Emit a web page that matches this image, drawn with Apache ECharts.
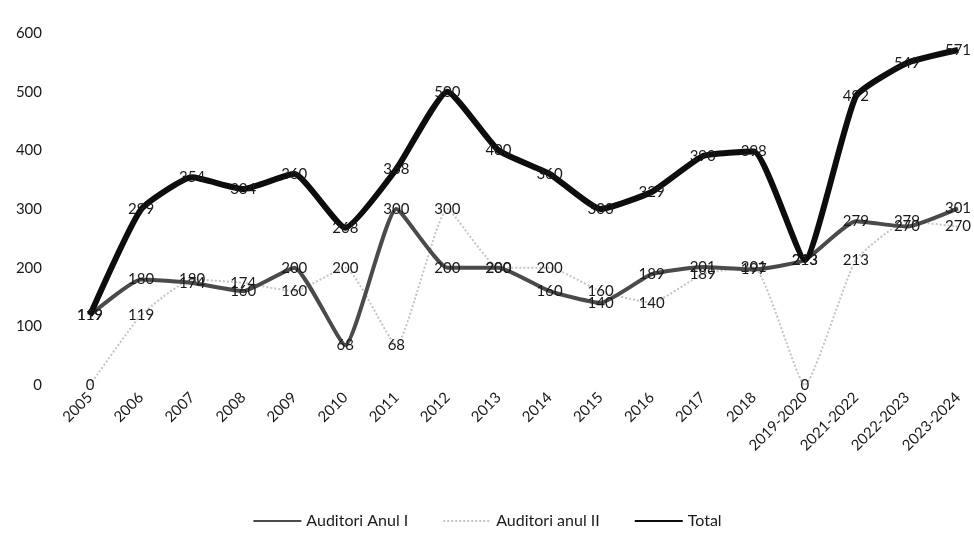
<!DOCTYPE html>
<html>
<head>
<meta charset="utf-8">
<script src="https://cdn.jsdelivr.net/npm/echarts@6/dist/echarts.min.js"></script>
<style>
  html, body { margin: 0; padding: 0; background: #fff; }
  #chart { width: 974px; height: 546px; }
</style>
</head>
<body>
<div id="chart"></div>
<script>
// categorii (ani)
const categories = ['2005', '2006', '2007', '2008', '2009', '2010', '2011', '2012', '2013', '2014',
  '2015', '2016', '2017', '2018', '2019-2020', '2021-2022', '2022-2023', '2023-2024'];
const anul1 = [119, 180, 174, 160, 200, 68, 300, 200, 200, 160, 140, 189, 201, 197, 213, 279, 270, 301];
const anul2 = [0, 119, 180, 174, 160, 200, 68, 300, 200, 200, 160, 140, 189, 201, 0, 213, 279, 270];
const total = [119, 299, 354, 334, 360, 268, 368, 500, 400, 360, 300, 329, 390, 398, 213, 492, 549, 571];
const yTicks = [0, 100, 200, 300, 400, 500, 600];

const FONT = 'Lato, "Open Sans", sans-serif';

const labelStyle = { show: true, position: 'inside', offset: [0, 3], color: '#1a1a1a', fontSize: 15, fontFamily: FONT };

// linie cu etichete centrate pe puncte, fara marker vizibil
function lineSeries(name, data, color, width, type, z) {
  return {
    name, type: 'line', data, smooth: 0.15,
    symbol: 'circle', symbolSize: 2, showSymbol: true,
    lineStyle: { color, width, type },
    itemStyle: { color: 'transparent', borderWidth: 0 },
    label: labelStyle, labelLayout: { hideOverlap: false }, z
  };
}

const chart = echarts.init(document.getElementById('chart'));
chart.setOption({
  animation: false,
  grid: { left: 90, right: 16, top: 33, bottom: 161 },
  xAxis: {
    type: 'category', data: categories, boundaryGap: false,
    axisLine: { show: false }, axisTick: { show: false },
    axisLabel: { rotate: 45, margin: 10, fontSize: 15, color: '#1a1a1a', fontFamily: FONT, interval: 0 }
  },
  yAxis: {
    type: 'value', min: yTicks[0], max: yTicks[yTicks.length - 1], interval: 100,
    axisLine: { show: false }, axisTick: { show: false }, splitLine: { show: false },
    axisLabel: { margin: 48, fontSize: 15, color: '#1a1a1a', fontFamily: FONT }
  },
  legend: {
    bottom: 12, left: 'center', itemWidth: 48, itemHeight: 10, itemGap: 34,
    textStyle: { fontSize: 16, color: '#1a1a1a', fontFamily: FONT }
  },
  series: [
    lineSeries('Auditori Anul I', anul1, '#4a4a4a', 4, 'solid', 3),
    lineSeries('Auditori anul II', anul2, '#c4c4c4', 2, 'dotted', 2),
    lineSeries('Total', total, '#0d0d0d', 6, 'solid', 4)
  ]
});
</script>
</body>
</html>
